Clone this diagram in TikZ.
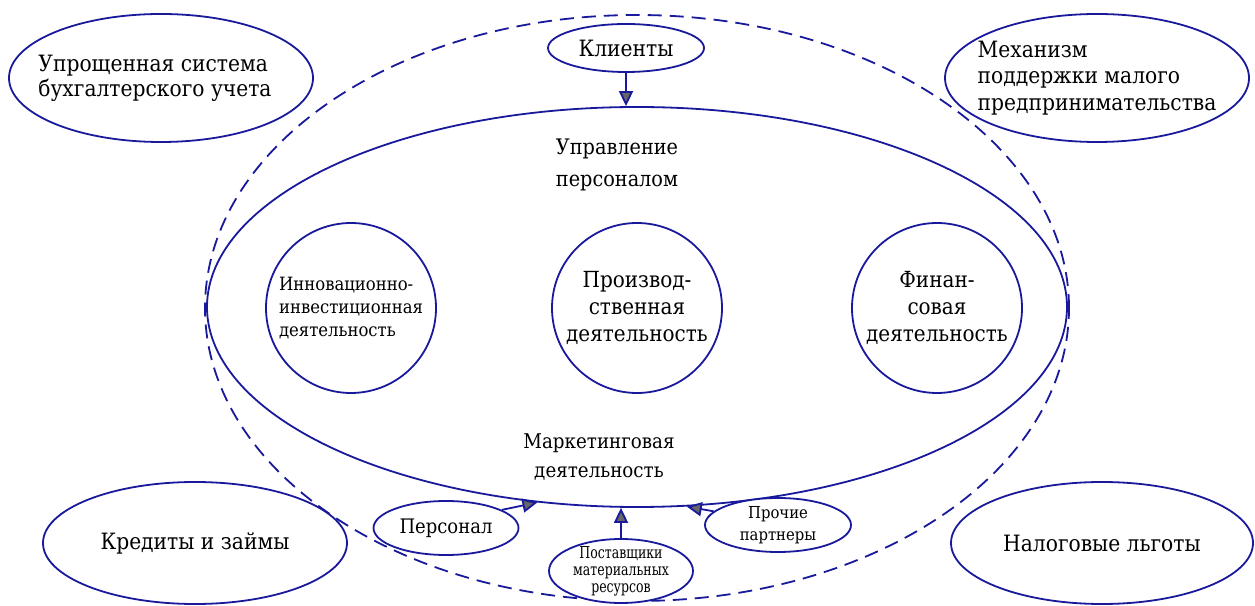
\documentclass[tikz,border=0pt]{standalone}
\usepackage{fontspec}
\setmainfont{DejaVu Serif}[FakeStretch=0.9]
\newfontfamily\narrowserif{DejaVu Serif}[FakeStretch=0.76]
\usetikzlibrary{shapes.geometric,arrows.meta}
\definecolor{lineblue}{RGB}{25,25,155}

\begin{document}
\begin{tikzpicture}[x=1pt,y=1pt,
        bub/.style={draw=lineblue,line width=1.8pt,ellipse,inner sep=0pt,fill=white,align=center},
        ring/.style={draw=lineblue,line width=1.8pt,circle,inner sep=0pt,minimum size=170pt,align=center},
        field/.style={draw=lineblue,line width=1.8pt,ellipse,inner sep=0pt},
        tip/.style={draw=lineblue,line width=1.8pt,-{Triangle[length=15pt,width=14pt,fill=black!60]}}]
    \def\fbig{\fontsize{22.5}{25}\selectfont}
    \def\fhr{\fontsize{21.4}{32}\selectfont}
    \def\fmkt{\fontsize{20.3}{29}\selectfont}
    \def\fring{\fontsize{22.2}{27}\selectfont}
    \def\fsm{\fontsize{18.3}{23}\selectfont}
    \def\fpart{\fontsize{16.5}{22}\selectfont}
    \def\ftiny{\narrowserif\fontsize{16.5}{17}\selectfont}
    \useasboundingbox (0,0) rectangle (1255,605);

    % outer dashed zone and the firm
    \node[field,dash pattern=on 14pt off 8pt,minimum width=864pt,minimum height=586pt] (zone) at (637,297) {};
    \node[field,minimum width=860pt,minimum height=400pt] (firm) at (637,298) {};
    \node[font=\fhr,align=center] (hr) at (617,440) {Управление\\персоналом};
    \node[font=\fmkt,align=center] (mkt) at (599,148) {Маркетинговая\\деятельность};

    % inner circles
    \node[ring,font=\fsm,align=left] (inv) at (351,297) {Инновационно-\\инвестиционная\\деятельность};
    \node[ring,font=\fring] (prod) at (637,297) {Производ-\\ственная\\деятельность};
    \node[ring,font=\fring] (fin) at (937,297) {Финан-\\совая\\деятельность};

    % corner ellipses
    \node[bub,minimum width=304pt,minimum height=128pt] (acc) at (161,527) {};
    \node[font=\fbig,align=left] (acctxt) at ([xshift=-6pt]acc.center) {Упрощенная система\\бухгалтерского учета};
    \node[bub,minimum width=304pt,minimum height=128pt] (mech) at (1097,527) {};
    \node[font=\fontsize{22.5}{26.5}\selectfont,align=left] (mechtxt) at (mech.center) {Механизм\\поддержки малого\\предпринимательства};
    \node[bub,font=\fbig,minimum width=304pt,minimum height=122pt] (cred) at (195,62) {Кредиты и займы};
    \node[bub,font=\fbig,minimum width=302pt,minimum height=122pt] (tax) at (1102,62) {Налоговые льготы};

    % partners
    \node[bub,font=\fbig,minimum width=156pt,minimum height=48pt] (cli) at (626,557) {Клиенты};
    \node[bub,font=\fontsize{20}{22}\selectfont,minimum width=145pt,minimum height=54pt] (pers) at (446,77) {Персонал};
    \node[bub,minimum width=144pt,minimum height=64pt] (vend) at (621,34) {};
    \node[font=\ftiny,align=center] (vendtxt) at (vend.center) {Поставщики\\материальных\\ресурсов};
    \node[bub,minimum width=146pt,minimum height=54pt] (part) at (778,80) {};
    \node[font=\fpart,align=center] (parttxt) at (part.center) {Прочие\\партнеры};

    \draw[tip] (cli.south) -- (cli.south |- firm.north);
    \draw[tip] (pers.18) -- (firm.-117);
    \draw[tip] (vend.north) -- (vend.north |- firm.south);
    \draw[tip] (part.168) -- (firm.-76);
\end{tikzpicture}
\end{document}
